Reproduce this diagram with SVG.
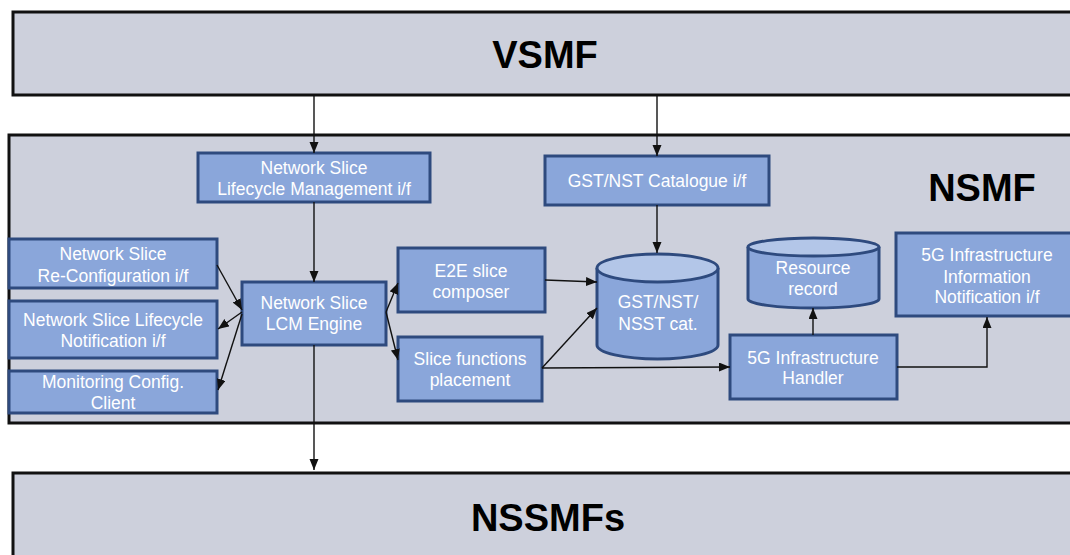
<svg xmlns="http://www.w3.org/2000/svg" width="1070" height="555" viewBox="0 0 1070 555">
  <defs>
    <style>
      .panel { fill: #cdd0dc; stroke: #111; stroke-width: 3; }
      .title { font-family: "Liberation Sans", Arial, sans-serif; font-weight: bold; font-size: 38px; fill: #000; text-anchor: middle; }
      .box { fill: #8aa6da; stroke: #2e4a7e; stroke-width: 3; }
      .cyl { fill: #8aa6da; stroke: #2e4a7e; stroke-width: 3; }
      .cyltop { fill: #b3c6e8; stroke: #2e4a7e; stroke-width: 3; }
      .lbl { font-family: "Liberation Sans", Arial, sans-serif; font-size: 17.5px; fill: #fff; text-anchor: middle; }
      .conn { fill: none; stroke: #111; stroke-width: 1.4; marker-end: url(#arrow); }
    </style>
    <marker id="arrow" markerUnits="userSpaceOnUse" markerWidth="12" markerHeight="10" refX="11" refY="4.5" orient="auto">
      <path d="M0,0 L11,4.5 L0,9 Z" fill="#111"/>
    </marker>
  </defs>

  <!-- Layer panels -->
  <g id="vsmf">
    <rect class="panel" x="13" y="12" width="1070" height="83"/>
    <text class="title" x="545" y="68">VSMF</text>
  </g>
  <g id="nsmf">
    <rect class="panel" x="9" y="135" width="1075" height="288"/>
    <text class="title" x="982" y="201">NSMF</text>
  </g>
  <g id="nssmfs">
    <rect class="panel" x="13" y="473" width="1070" height="100"/>
    <text class="title" x="548" y="531">NSSMFs</text>
  </g>

  <!-- NSMF components -->
  <g id="ns-lcm-if">
    <rect class="box" x="198" y="153" width="232" height="49"/>
    <text class="lbl" x="314" y="174">Network Slice</text>
    <text class="lbl" x="314" y="195">Lifecycle Management i/f</text>
  </g>
  <g id="ns-reconfig-if">
    <rect class="box" x="9" y="239" width="208" height="49"/>
    <text class="lbl" x="113" y="260">Network Slice</text>
    <text class="lbl" x="113" y="282">Re-Configuration i/f</text>
  </g>
  <g id="ns-lcm-notif-if">
    <rect class="box" x="9" y="301" width="208" height="57"/>
    <text class="lbl" x="113" y="326">Network Slice Lifecycle</text>
    <text class="lbl" x="113" y="347">Notification i/f</text>
  </g>
  <g id="monitoring-client">
    <rect class="box" x="9" y="371" width="208" height="42"/>
    <text class="lbl" x="113" y="388">Monitoring Config.</text>
    <text class="lbl" x="113" y="409">Client</text>
  </g>
  <g id="lcm-engine">
    <rect class="box" x="242" y="282" width="144" height="63"/>
    <text class="lbl" x="314" y="309">Network Slice</text>
    <text class="lbl" x="314" y="330">LCM Engine</text>
  </g>
  <g id="catalogue-if">
    <rect class="box" x="545" y="156" width="224" height="49"/>
    <text class="lbl" x="657" y="187">GST/NST Catalogue i/f</text>
  </g>
  <g id="e2e-composer">
    <rect class="box" x="398" y="248" width="147" height="64"/>
    <text class="lbl" x="471" y="277">E2E slice</text>
    <text class="lbl" x="471" y="298">composer</text>
  </g>
  <g id="functions-placement">
    <rect class="box" x="398" y="337" width="144" height="64"/>
    <text class="lbl" x="470" y="365">Slice functions</text>
    <text class="lbl" x="470" y="386">placement</text>
  </g>
  <g id="catalogue-db">
    <path class="cyl" d="M597,268 L597,345 A60.5,14 0 0 0 718,345 L718,268"/>
    <ellipse class="cyltop" cx="657.5" cy="268" rx="60.5" ry="14"/>
    <text class="lbl" x="658" y="308">GST/NST/</text>
    <text class="lbl" x="658" y="330">NSST cat.</text>
  </g>
  <g id="resource-record">
    <path class="cyl" d="M748,247 L748,299 A65.5,9 0 0 0 879,299 L879,247"/>
    <ellipse class="cyltop" cx="813.5" cy="247" rx="65.5" ry="9"/>
    <text class="lbl" x="813" y="274">Resource</text>
    <text class="lbl" x="813" y="295">record</text>
  </g>
  <g id="infra-handler">
    <rect class="box" x="730" y="335" width="167" height="64"/>
    <text class="lbl" x="813" y="364">5G Infrastructure</text>
    <text class="lbl" x="813" y="384">Handler</text>
  </g>
  <g id="infra-notif-if">
    <rect class="box" x="896" y="233" width="180" height="83"/>
    <text class="lbl" x="987" y="261">5G Infrastructure</text>
    <text class="lbl" x="987" y="283">Information</text>
    <text class="lbl" x="987" y="303">Notification i/f</text>
  </g>

  <!-- Connectors -->
  <g id="connectors">
    <path class="conn" d="M314,95 L314,153"/>
    <path class="conn" d="M314,202 L314,282"/>
    <path class="conn" d="M314,345 L314,470"/>
    <path class="conn" d="M657,95 L657,156"/>
    <path class="conn" d="M657,205 L657,253"/>
    <path class="conn" d="M217,265 L242,310"/>
    <path class="conn" d="M242,312 L218,329"/>
    <path class="conn" d="M242,314 L218,390"/>
    <path class="conn" d="M386,312 L398,283"/>
    <path class="conn" d="M386,312 L398,360"/>
    <path class="conn" d="M545,280 L597,282"/>
    <path class="conn" d="M542,368 L597,308"/>
    <path class="conn" d="M542,368 L730,367"/>
    <path class="conn" d="M813,335 L813,308"/>
    <path class="conn" d="M897,367 L987,367 L987,317"/>
  </g>
</svg>
